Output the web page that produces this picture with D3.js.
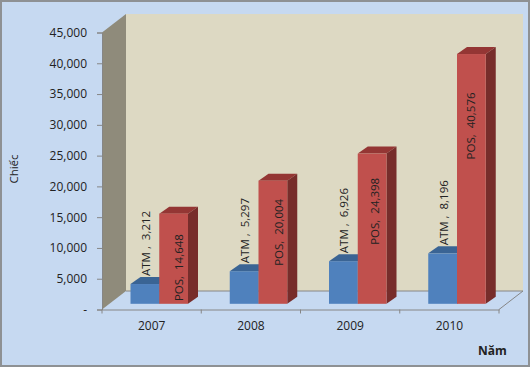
<!DOCTYPE html>
<html>
<head>
<meta charset="utf-8">
<script src="https://cdn.jsdelivr.net/npm/d3@7"></script>
<style>
  html, body { margin: 0; padding: 0; background: #fff; }
  text { font-family: "Open Sans", sans-serif; fill: #222; white-space: pre; }
</style>
</head>
<body>
<div class="container"></div>
<script>
// data
var years = ["2007", "2008", "2009", "2010"];
var seriesNames = ["ATM", "POS"];
var atm = [3212, 5297, 6926, 8196];
var pos = [14648, 20004, 24398, 40576];
var yTicks = [0, 5000, 10000, 15000, 20000, 25000, 30000, 35000, 40000, 45000];

// label nudges (x, y), the reference places POS labels by hand
var posNudgeX = [5, 6, 3, 0];
var posNudgeY = [0, -6, -3, 0];

var width = 530, height = 367;
var plot = {left: 102, right: 499, top: 32.5, bottom: 309.5};
var wall = {dx: 24, dy: -18.5};
var bar = {dx: 8, dy: -5.7, sideX: 10, sideY: -7};

var colors = {
  bg: "#c6d9f1", border: "#8e9194", wall: "#ddd9c3", side: "#8f8b7b", axis: "#868686",
  ATM: {front: "#4f81bd", top: "#3a6494", side: "#3a6494"},
  POS: {front: "#c0504d", top: "#943634", side: "#772d2b"}
};

var svg = d3.select(".container").append("svg")
    .attr("width", width)
    .attr("height", height)
    .style("display", "block");

// background
svg.append("rect")
    .attr("x", 1).attr("y", 1)
    .attr("width", width - 2).attr("height", height - 2)
    .attr("fill", colors.bg)
    .attr("stroke", colors.border)
    .attr("stroke-width", 2);

var y = d3.scaleLinear().domain([0, 45000]).range([plot.bottom, plot.top]);
var xAxisScale = d3.scaleBand().domain(years).range([plot.left, plot.right]);
// bars stand a bit inside the floor, so their plane is shifted
var x0 = d3.scaleBand().domain(years).range([plot.left + bar.dx, plot.right + bar.dx]);
var x1 = d3.scaleBand().domain(seriesNames).range([20.5, 78]);
var yBar = v => y(v) + bar.dy;

function pts(a) { return a.map(p => p.join(",")).join(" "); }

// walls and floor
svg.append("polygon")
    .attr("points", pts([[plot.left + wall.dx, plot.top + wall.dy], [plot.right + wall.dx, plot.top + wall.dy],
      [plot.right + wall.dx, plot.bottom + wall.dy], [plot.left + wall.dx, plot.bottom + wall.dy]]))
    .attr("fill", colors.wall);
svg.append("polygon")
    .attr("points", pts([[plot.left, plot.top], [plot.left + wall.dx, plot.top + wall.dy],
      [plot.left + wall.dx, plot.bottom + wall.dy], [plot.left, plot.bottom]]))
    .attr("fill", colors.side);
svg.append("polyline")
    .attr("points", pts([[plot.left + wall.dx, plot.bottom + wall.dy], [plot.right + wall.dx, plot.bottom + wall.dy],
      [plot.right, plot.bottom]]))
    .attr("fill", "none")
    .attr("stroke", colors.axis);

// bars
var rows = [];
years.forEach(function(yr, i) {
  rows.push({year: yr, name: "ATM", value: atm[i], i: i});
  rows.push({year: yr, name: "POS", value: pos[i], i: i});
});

var bars = svg.append("g").selectAll("g")
    .data(rows)
    .join("g");

bars.append("polygon")
    .attr("fill", d => colors[d.name].top)
    .attr("points", function(d) {
      var l = x0(d.year) + x1(d.name), r = l + x1.bandwidth(), t = yBar(d.value);
      return pts([[l, t], [l + bar.sideX, t + bar.sideY], [r + bar.sideX, t + bar.sideY], [r, t]]);
    });
bars.append("polygon")
    .attr("fill", d => colors[d.name].side)
    .attr("points", function(d) {
      var r = x0(d.year) + x1(d.name) + x1.bandwidth(), t = yBar(d.value), b = yBar(0);
      return pts([[r, t], [r + bar.sideX, t + bar.sideY], [r + bar.sideX, b + bar.sideY], [r, b]]);
    });
bars.append("rect")
    .attr("x", d => x0(d.year) + x1(d.name))
    .attr("y", d => yBar(d.value))
    .attr("width", x1.bandwidth())
    .attr("height", d => yBar(0) - yBar(d.value))
    .attr("fill", d => colors[d.name].front);

// data labels
svg.append("g").selectAll("text")
    .data(rows)
    .join("text")
    .attr("transform", function(d) {
      var cx = x0(d.year) + x1(d.name) + x1.bandwidth() / 2;
      if (d.name == "ATM") return `translate(${cx + 1},${yBar(d.value) - 8}) rotate(-90)`;
      var t = 0.8875 * yBar(d.value) + 78 + posNudgeY[d.i];
      return `translate(${cx + posNudgeX[d.i]},${t}) rotate(-90)`;
    })
    .attr("text-anchor", d => d.name == "ATM" ? "start" : "middle")
    .attr("dy", "0.35em")
    .style("font-size", "11.5px")
    .text(d => d.name == "ATM" ? "ATM ,  " + d3.format(",")(d.value) : "POS,  " + d3.format(",")(d.value));

// y axis
var yAxis = svg.append("g")
    .attr("transform", `translate(${plot.left},0)`)
    .call(d3.axisLeft(y).tickValues(yTicks).tickSize(5).tickPadding(10)
      .tickFormat(d => d == 0 ? "-" : d3.format(",")(d)));
yAxis.selectAll("line").attr("stroke", colors.axis);
yAxis.select(".domain").attr("stroke", colors.axis);
yAxis.selectAll("text").style("font-size", "12px").style("fill", "#222");

// x axis
var xAxis = svg.append("g")
    .attr("transform", `translate(0,${plot.bottom})`)
    .call(d3.axisBottom(xAxisScale).tickSize(0).tickPadding(12));
xAxis.select(".domain").attr("stroke", colors.axis);
xAxis.selectAll("text").style("font-size", "12px").style("fill", "#222");
svg.append("g").selectAll("line")
    .data(years.concat("end"))
    .join("line")
    .attr("x1", d => d == "end" ? plot.right : xAxisScale(d))
    .attr("x2", d => d == "end" ? plot.right : xAxisScale(d))
    .attr("y1", plot.bottom)
    .attr("y2", plot.bottom + 4)
    .attr("stroke", colors.axis);

// axis titles
svg.append("text")
    .attr("transform", "translate(14,169) rotate(-90)")
    .attr("text-anchor", "middle")
    .attr("dy", "0.35em")
    .style("font-size", "11.5px")
    .text("Chiếc");
svg.append("text")
    .attr("x", 492.5)
    .attr("y", 355)
    .attr("text-anchor", "middle")
    .style("font-size", "12px")
    .style("font-weight", "bold")
    .text("Năm");
</script>
</body>
</html>
